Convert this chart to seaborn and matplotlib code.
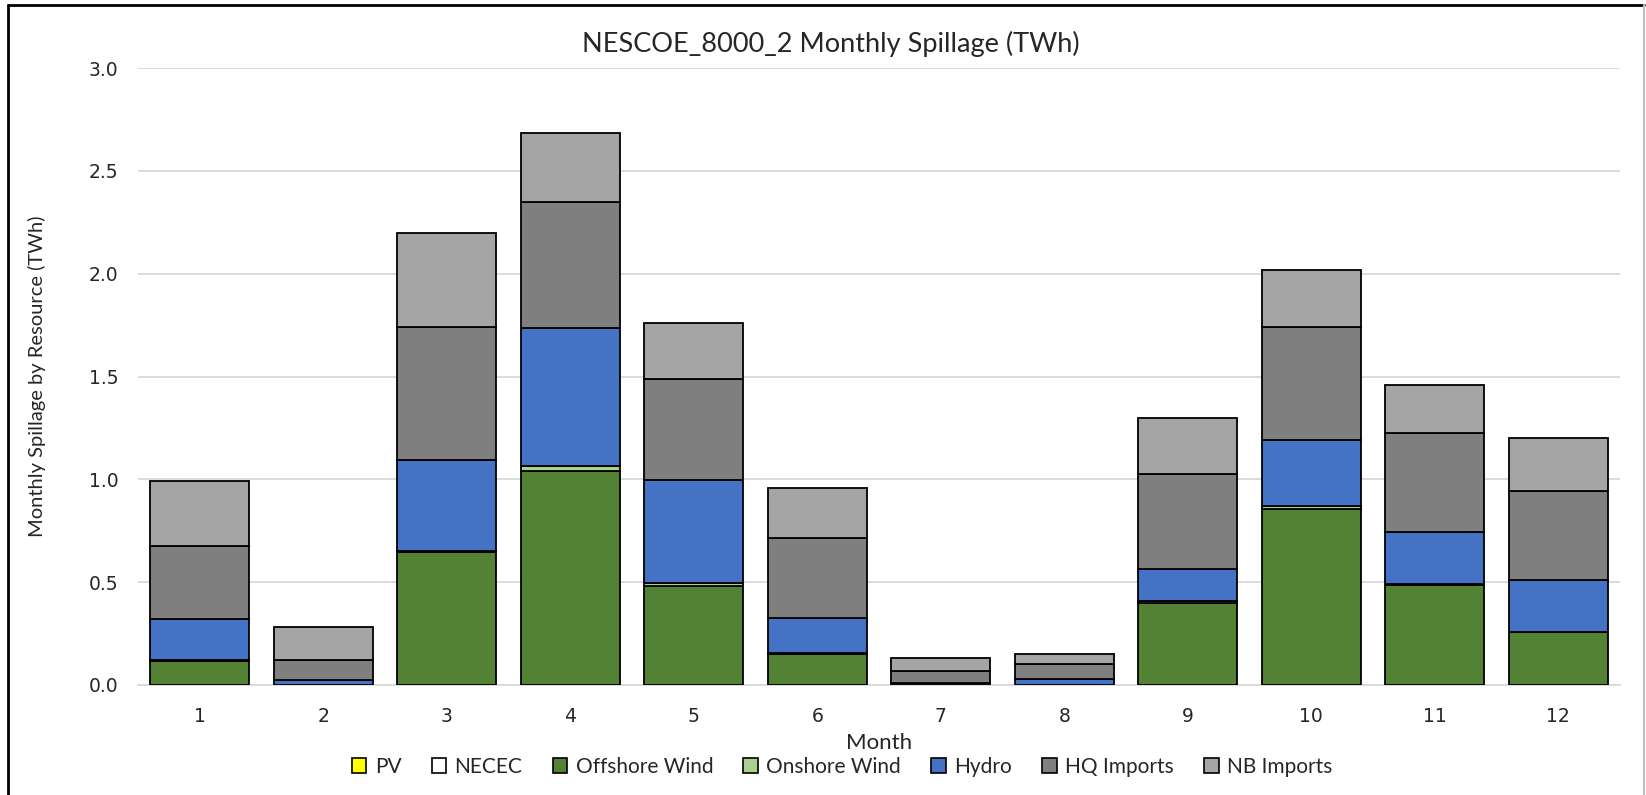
import numpy as np
import pandas as pd
import matplotlib
matplotlib.use("Agg")
import matplotlib.pyplot as plt
import seaborn as sns
from matplotlib.patches import Patch
from matplotlib.lines import Line2D

months = [1, 2, 3, 4, 5, 6, 7, 8, 9, 10, 11, 12]
series_names = ["PV", "NECEC", "Offshore Wind", "Onshore Wind", "Hydro", "HQ Imports", "NB Imports"]
pv = [0, 0, 0, 0, 0, 0, 0, 0, 0, 0, 0, 0]
necec = [0, 0, 0, 0, 0, 0, 0, 0, 0, 0, 0, 0]
offshore = [0.115, 0.0, 0.645, 1.04, 0.48, 0.15, 0.0, 0.0, 0.40, 0.855, 0.485, 0.26]
onshore = [0.007, 0.0, 0.007, 0.025, 0.016, 0.007, 0.0, 0.0, 0.007, 0.015, 0.007, 0.0]
hydro = [0.20, 0.022, 0.44, 0.67, 0.50, 0.17, 0.012, 0.03, 0.155, 0.32, 0.25, 0.25]
hq = [0.355, 0.10, 0.65, 0.615, 0.49, 0.39, 0.055, 0.07, 0.465, 0.55, 0.485, 0.435]
nb = [0.315, 0.16, 0.455, 0.335, 0.275, 0.24, 0.063, 0.05, 0.27, 0.28, 0.23, 0.255]
colors = ["#FFFF00", "#FFFFFF", "#548235", "#A9D18E", "#4472C4", "#7F7F7F", "#A5A5A5"]

series = [pv, necec, offshore, onshore, hydro, hq, nb]

sns.set_theme(style="white")
plt.rcParams["font.family"] = ["Lato", "DejaVu Sans"]

fig = plt.figure(figsize=(16.46, 7.95), dpi=100)
ax = fig.add_axes([138 / 1646, 1 - 685 / 795, (1620 - 138) / 1646, (685 - 68) / 795])

bottom = np.zeros(len(months))
for name, vals, col in zip(series_names, series, colors):
    df = pd.DataFrame({"Month": months, "Value": vals})
    sns.barplot(data=df, x="Month", y="Value", bottom=bottom.copy(), color=col,
                saturation=1, width=0.8, edgecolor="black", linewidth=1.3,
                errorbar=None, ax=ax, zorder=3)
    bottom = bottom + np.array(vals)

ax.set_ylim(0, 3.0)
ax.set_xlim(-0.5, 11.5)
yt = np.arange(0, 3.01, 0.5)
ax.set_yticks(yt)
ax.set_yticklabels([f"{v:.1f}" for v in yt], fontfamily="DejaVu Sans", fontsize=13.5)
ax.set_xticklabels([str(m) for m in months], fontfamily="DejaVu Sans", fontsize=13.5)
ax.yaxis.grid(True, color="#D9D9D9", linewidth=1.3, zorder=0)
ax.set_axisbelow(True)
for s in ["top", "right", "left"]:
    ax.spines[s].set_visible(False)
ax.spines["bottom"].set_color("#D9D9D9")
ax.spines["bottom"].set_linewidth(1.3)
ax.tick_params(axis="x", length=0, pad=16)
ax.tick_params(axis="y", length=0, pad=14)

ax.set_xlabel("Month", fontsize=16)
ax.xaxis.set_label_coords(0.5, -0.077)
ax.set_ylabel("Monthly Spillage by Resource (TWh)", fontsize=14.5)
ax.yaxis.set_label_coords(-0.062, 0.5)
fig.text(0.505, 1 - 44 / 795, "NESCOE_8000_2 Monthly Spillage (TWh)", ha="center", va="center", fontsize=19.5)

handles = [Patch(facecolor=c, edgecolor="black", linewidth=1.2, label=n) for n, c in zip(series_names, colors)]
fig.legend(handles=handles, loc="center", bbox_to_anchor=(0.5116, 1 - 767 / 795), ncol=7,
           frameon=False, fontsize=15, handlelength=0.7, handleheight=0.7,
           handletextpad=0.4, columnspacing=1.45)

# chart area border
fig.add_artist(Line2D([0.005, 0.005], [0, 0.994], transform=fig.transFigure, color="black", linewidth=2))
fig.add_artist(Line2D([0.005, 0.999], [0.994, 0.994], transform=fig.transFigure, color="black", linewidth=2))
fig.add_artist(Line2D([0.9985, 0.9985], [0, 0.994], transform=fig.transFigure, color="#BFBFBF", linewidth=1.5))

fig.savefig("out.png", dpi=100)
